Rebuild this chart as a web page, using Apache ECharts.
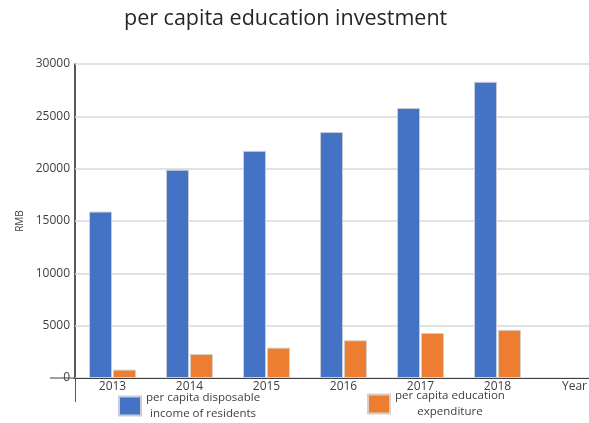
<!DOCTYPE html>
<html>
<head>
<meta charset="utf-8">
<script src="https://cdn.jsdelivr.net/npm/echarts@6/dist/echarts.min.js"></script>
<style>html,body{margin:0;padding:0;background:#fff;}#c{width:589px;height:423px;}</style>
</head>
<body>
<div id="c"></div>
<script>
var categories = ['2013', '2014', '2015', '2016', '2017', '2018', 'Year'];
var incomeValues = [15900, 19900, 21700, 23500, 25800, 28300, '-'];
var eduValues = [800, 2300, 2900, 3600, 4300, 4600, '-'];
var yTicks = [0, 5000, 10000, 15000, 20000, 25000, 30000];
var incomeName = 'per capita disposable\nincome of residents';
var eduName = 'per capita education\nexpenditure';

var G = {left: 74, top: 64, width: 539, height: 314};
var font = 'Open Sans';
var chart = echarts.init(document.getElementById('c'), null, {renderer: 'canvas'});
var legendText = {fontFamily: font, fontSize: 11.5, color: '#404040', lineHeight: 16,
  rich: {c: {align: 'center', fontFamily: font, fontSize: 11.5, color: '#404040', lineHeight: 16}}};
function centerLines(n) {
  return n.split('\n').map(function (s) { return '{c|' + s + '}'; }).join('\n');
}
chart.setOption({
  animation: false,
  backgroundColor: '#fff',
  title: {text: 'per capita education investment', left: 119, top: 3,
    textStyle: {fontFamily: font, fontSize: 21.5, fontWeight: 'normal', color: '#262626'}},
  legend: [
    {data: [incomeName], left: 118, top: 390, padding: 0, icon: 'rect', itemWidth: 22, itemHeight: 19,
     textStyle: legendText, formatter: centerLines},
    {data: [eduName], left: 367, top: 388, padding: 0, icon: 'rect', itemWidth: 22, itemHeight: 19,
     textStyle: legendText, formatter: centerLines}
  ],
  grid: {left: G.left, top: G.top, width: G.width, height: G.height, containLabel: false, outerBoundsMode: 'none'},
  xAxis: {type: 'category', data: categories,
    axisLine: {lineStyle: {color: '#404040', width: 1}},
    axisTick: {show: false},
    axisLabel: {fontFamily: font, fontSize: 12, color: '#404040', margin: 3, interval: 0}},
  yAxis: {type: 'value', min: yTicks[0], max: yTicks[yTicks.length-1], interval: yTicks[1]-yTicks[0],
    name: 'RMB', nameLocation: 'middle', nameGap: 49, nameRotate: 90,
    nameTextStyle: {fontFamily: font, fontSize: 10, color: '#404040'},
    axisLine: {show: true, lineStyle: {color: '#595959', width: 1}},
    axisTick: {show: false},
    splitLine: {lineStyle: {color: '#d9d9d9', width: 1.5}},
    axisLabel: {fontFamily: font, fontSize: 12, color: '#404040', margin: 4,
      formatter: function (v) { return String(v); }}},
  series: [
    {name: incomeName, type: 'bar', data: incomeValues, barWidth: 23, barGap: '4%',
     itemStyle: {color: '#4472C4', borderColor: '#c8cdd6', borderWidth: 1}},
    {name: eduName, type: 'bar', data: eduValues, barWidth: 23,
     itemStyle: {color: '#ED7D31', borderColor: '#d8cfc8', borderWidth: 1}}
  ],
  graphic: [
    {type: 'line', shape: {x1: 50, y1: G.top + G.height, x2: G.left, y2: G.top + G.height},
     style: {stroke: '#404040', lineWidth: 1}},
    {type: 'line', shape: {x1: G.left + 1.5, y1: G.top - 1, x2: G.left + 1.5, y2: G.top + G.height + 24},
     style: {stroke: '#595959', lineWidth: 1}}
  ]
});
</script>
</body>
</html>
